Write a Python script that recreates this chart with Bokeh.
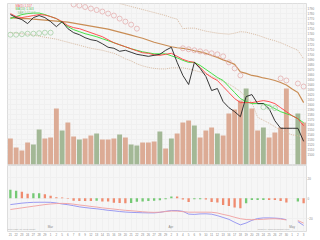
from bokeh.plotting import figure
from bokeh.layouts import column
from bokeh.models import Range1d, FixedTicker, ColumnDataSource, Label
from bokeh.embed import file_html
from bokeh.resources import INLINE

nan = float("nan")

# ---------------- data ----------------
day_labels = ["21", "22", "23", "24", "27", "28", "29",
              "1", "2", "5", "6", "7", "8", "9", "12", "13", "14", "15", "16", "19", "20",
              "21", "22", "23", "26", "27", "28", "29",
              "2", "3", "4", "5", "6", "9", "10", "11", "12", "13", "16", "17", "18", "19",
              "20", "23", "24", "25", "26", "27", "30",
              "1", "2", "3"]
month_pos = [6.5, 27.5, 48.5]
month_labels = ["Mar", "Apr", "May"]

close = [1778, 1772, 1768, 1760, 1772, 1776, 1772, 1764, 1754, 1764, 1750, 1742, 1738,
         1732, 1728, 1726, 1720, 1713, 1711, 1705, 1707, 1703, 1699, 1697, 1695, 1697,
         1699, 1707, 1713, 1683, 1657, 1639, 1683, 1671, 1655, 1627, 1631, 1605, 1593,
         1585, 1575, 1615, 1619, 1601, 1601, 1591, 1567, 1552, 1552, 1552, 1552, 1526]

ma_green = [1770, 1774, 1778, 1780, 1781, 1781, 1778, 1774, 1770, 1762, 1754, 1748, 1744,
            1740, 1737, 1734, 1730, 1726, 1722, 1718, 1714, 1710, 1707, 1704, 1702, 1700,
            1700, 1700, 1696, 1692, 1687, 1683, 1683, 1677, 1669, 1661, 1653, 1647, 1635,
            1623, 1611, 1605, 1601, 1601, 1601, 1597, 1591, 1585, 1581, 1577, 1571, 1563]

ma_red = [1780, 1774, 1772, 1774, 1776, 1778, 1777, 1774, 1770, 1764, 1756, 1752, 1750,
          1746, 1742, 1738, 1734, 1728, 1722, 1718, 1714, 1710, 1706, 1702, 1701, 1698,
          1697, 1699, 1701, 1695, 1689, 1685, 1683, 1673, 1661, 1653, 1647, 1635, 1623,
          1611, 1603, 1603, 1603, 1605, 1607, 1605, 1601, 1593, 1585, 1577, 1571, 1557]

ma_brown = [1772, 1771, 1770, 1770, 1769, 1768, 1767, 1766, 1765, 1764, 1763, 1761, 1759,
            1757, 1755, 1753, 1751, 1749, 1746, 1743, 1740, 1737, 1734, 1731, 1727, 1723,
            1720, 1717, 1714, 1712, 1711, 1709, 1706, 1704, 1701, 1697, 1693, 1688, 1684,
            1679, 1664, 1661, 1657, 1655, 1652, 1650, 1647, 1643, 1638, 1630, 1623, 1603]

band_upper = [nan] * 19 + [1800, 1797, 1794, 1791, 1788, 1785, 1782, 1779, 1776,
                           1772, 1769, 1750, 1751, 1751, 1748, 1745, 1743, 1741, 1740,
                           1739, 1741, 1744, 1743, 1740, 1737, 1733, 1729, 1726, 1722,
                           1717, 1712, 1707, 1690, 1688]

band_lower = [1742, 1741, 1740, 1739, 1737, 1735, 1733, 1731, 1729, 1726, 1723, 1720, 1717,
              1714, 1711, 1709, 1707, 1704, 1701, 1696, 1690, 1686, 1680, 1676, 1673, 1671,
              1670, 1670, 1672, 1672, 1672, 1670, 1667, 1664, 1660, 1655, 1650, 1645, 1640,
              1633, 1625, 1614, 1603, 1574, 1568, 1562, 1555, 1548, 1543, 1539, 1537, 1535]

sar_down = [nan] * 11 + [1798, 1796, 1793, 1790, 1787, 1784, 1780, 1776, 1770, 1764, 1758,
                         1750] + [nan] * 7 + [1711, 1709, 1707, 1705, 1703, 1701, 1699,
                         1695, 1683, 1671, 1657] + [nan] * 6 + [1651, 1647, nan, 1641, 1635]
sar_up = [1738, 1738, 1739, 1740, 1740, 1741, 1742, 1742] + [nan] * 36 + \
         [1594, 1594, 1592] + [nan] * 5

volume = [323, 211, 174, 273, 248, 435, 323, 335, 696, 422, 522, 348, 311, 323, 360, 385,
          311, 311, 323, 373, 335, 248, 236, 273, 273, 286, 410, 199, 323, 385, 522, 546,
          484, 335, 422, 460, 385, 360, 633, 683, 795, 944, 696, 422, 460, 335, 397, 460,
          944, 0, 633, 522]
vol_dir = ["d", "d", "d", "d", "u", "u", "d", "d", "d", "u", "d", "d", "u", "d", "d", "u",
           "d", "d", "d", "u", "d", "u", "u", "d", "d", "d", "u", "d", "u", "d", "d", "d",
           "u", "d", "d", "d", "u", "d", "d", "d", "d", "u", "d", "d", "u", "d", "d", "d",
           "d", "d", "u", "d"]

macd = [-6.2, -5.5, -4.8, -4.3, -4.0, -3.9, -3.9, -4.0, -4.6, -5.6, -6.3, -7.3, -8.4,
        -9.1, -9.8, -10.3, -11.0, -11.8, -12.3, -13.0, -13.5, -13.8, -14.0, -14.2, -14.3,
        -14.3, -13.8, -12.8, -12.0, -12.0, -12.8, -15.5, -15.8, -15.3, -15.2, -15.6, -17.0,
        -18.8, -20.6, -23.5, -26.0, -24.2, -21.6, -19.8, -19.2, -19.2, -19.4, -19.8, -21.0,
        nan, -22.8, -26.6]
signal = [-11.0, -10.2, -9.4, -8.6, -7.8, -7.0, -6.2, -5.6, -5.2, -5.0, -5.2, -5.8, -6.6,
          -7.2, -8.0, -8.6, -9.4, -10.0, -10.6, -11.2, -11.8, -12.2, -12.7, -13.2, -13.6,
          -13.8, -13.6, -13.0, -12.5, -12.6, -13.1, -13.6, -13.6, -13.6, -13.6, -13.7,
          -14.4, -15.8, -17.0, -18.6, -20.0, -20.8, -21.0, -20.8, -20.6, -20.2, -20.0,
          -20.4, -21.2, nan, -21.8, -24.3]
hist = [8.2, 7.3, 6.3, 4.4, 4.9, 4.9, 3.9, 2.4, 1.0, 0.7, -0.5, -2.4, -2.6, -2.6, -2.6,
        -2.4, -3.2, -3.2, -4.4, -4.6, -4.9, -4.6, -3.4, -3.2, -2.6, -2.4, -2.0, -1.0, 1.7,
        1.7, -1.3, -3.6, -1.0, -1.0, -1.3, -3.6, -4.2, -6.5, -7.5, -9.1, -9.8, -4.9, -1.7,
        -1.7, -1.7, -1.7, -1.7, -2.6, -4.2, nan, -3.2, -4.9]
hist_dir = ["u", "u", "d", "d", "u", "u", "d", "d", "d", "d", "d", "d", "d", "d", "d", "u",
            "d", "d", "d", "d", "d", "u", "u", "u", "u", "u", "u", "u", "u", "d", "d", "d",
            "u", "u", "d", "d", "d", "d", "d", "d", "d", "u", "u", "u", "u", "d", "d", "d",
            "d", "d", "u", "d"]

price_ticks = list(range(1500, 1800, 10))
macd_ticks = [-20, 0, 20]

# ---------------- style ----------------
BG = "#f6f6f6"
GRID = "#f0f0f0"
UP_BAR = "#a3b896"
DN_BAR = "#dcab95"
FS = "3px"
n = len(close)
xs = list(range(n))
xr = Range1d(-0.5, n - 0.5)


def style_axis(ax):
    ax.major_label_text_font_size = FS
    ax.major_label_text_color = "#888888"
    ax.major_tick_out = 0
    ax.major_tick_in = 0
    ax.minor_tick_out = 0
    ax.minor_tick_in = 0
    ax.major_label_standoff = 1
    ax.axis_line_color = None


def lab(fig, x, y, t, c, s=FS, xu="screen"):
    # y is the baseline position in screen pixels measured from the canvas bottom
    fig.add_layout(Label(x=x, y=y, x_units=xu, y_units="screen", text=t,
                         text_color=c, text_font_size=s, text_baseline="bottom"))


# ---------------- main panel ----------------
p = figure(width=320, height=165, x_range=xr, y_range=Range1d(1480, 1800),
           output_backend="svg", toolbar_location=None, y_axis_location="right",
           x_axis_location=None, min_border_left=7, min_border_right=14,
           min_border_top=3, min_border_bottom=1, background_fill_color=BG,
           outline_line_color="#dddddd", border_fill_color="white")
p.extra_y_ranges = {"vol": Range1d(0, 2000)}
p.xgrid.ticker = FixedTicker(ticks=xs)
p.xgrid.grid_line_color = GRID
p.ygrid.grid_line_color = GRID
p.yaxis.ticker = FixedTicker(ticks=price_ticks)
style_axis(p.yaxis[0])

vsrc = ColumnDataSource(dict(x=xs, v=volume,
                             c=[UP_BAR if d == "u" else DN_BAR for d in vol_dir]))
p.vbar(x="x", top="v", bottom=0, width=0.85, fill_color="c", line_color="c",
       line_alpha=0.0, fill_alpha=1.0, source=vsrc, y_range_name="vol")

p.line(xs, band_upper, line_color="#d8bca4", line_width=1, line_dash="1 1")
p.line(xs, band_lower, line_color="#d8bca4", line_width=1, line_dash="1 1")
p.line(xs, ma_brown, line_color="#c98d55", line_width=1.2)
p.line(xs, ma_green, line_color="#33dd33", line_width=0.9)
p.line(xs, ma_red, line_color="#ff4040", line_width=0.9)
p.line(xs, close, line_color="#222222", line_width=0.9)
p.scatter(xs, sar_down, marker="circle", size=5, fill_color=None,
          line_color="#e4b0b0", line_width=0.8)
p.scatter(xs, sar_up, marker="circle", size=5, fill_color=None,
          line_color="#a6d0a6", line_width=0.8)

lab(p, 8, 161.5, "Gold Close", "#777777")
lab(p, 38, 161.5, "2012/05/03", "#999999")
lab(p, 66, 161.5, "O:1,552", "#999999")
lab(p, 88, 161.5, "C:1,526", "#999999")
lab(p, 115, 161.5, "Vol:522 (-26.0)", "#999999")
lab(p, 8, 157.5, "MA(5) 1,557", "#ee6666")
lab(p, 8, 154, "MA(10) 1,563", "#55bb55")
lab(p, 10, 150.5, "SAR 0.02-0.2", "#88c088")

# ---------------- MACD panel ----------------
q = figure(width=320, height=75, x_range=xr, y_range=Range1d(-32.5, 32),
           output_backend="svg", toolbar_location=None, y_axis_location="right",
           min_border_left=7, min_border_right=14, min_border_top=0,
           min_border_bottom=9, background_fill_color=BG,
           outline_line_color="#dddddd", border_fill_color="white")
q.xgrid.ticker = FixedTicker(ticks=xs)
q.xgrid.grid_line_color = GRID
q.ygrid.grid_line_color = GRID
q.yaxis.ticker = FixedTicker(ticks=macd_ticks)
style_axis(q.yaxis[0])
style_axis(q.xaxis[0])
q.xaxis.ticker = FixedTicker(ticks=xs)
q.xaxis.major_label_overrides = {i: day_labels[i] for i in xs}

hsrc = ColumnDataSource(dict(x=xs, h=hist,
                             c=["#66c466" if d == "u" else "#ee8060" for d in hist_dir]))
q.vbar(x="x", top="h", bottom=0, width=0.4, fill_color="c", line_color="c",
       fill_alpha=0.9, line_alpha=0.0, source=hsrc)
q.line(xs, macd, line_color="#9090f0", line_width=0.9)
q.line(xs, signal, line_color="#f0a0a0", line_width=0.9)

lab(q, 8, 71, "MACD(12,26,9)", "#8080e0")
lab(q, 8, 67.5, "Signal(9)", "#ee7070")
for mp, ml in zip(month_pos, month_labels):
    lab(q, mp, 2.8, ml, "#888888", FS, "data")
lab(q, 0, 0.3, "Copyright (C) Gold Chart", "#aaaaaa", "2.5px")
lab(q, 250, 0.3, "Chart by www.goldchart.com", "#aaaaaa", "2.5px")

layout = column(p, q, spacing=0)
open("out.html", "w").write(file_html(layout, INLINE))
